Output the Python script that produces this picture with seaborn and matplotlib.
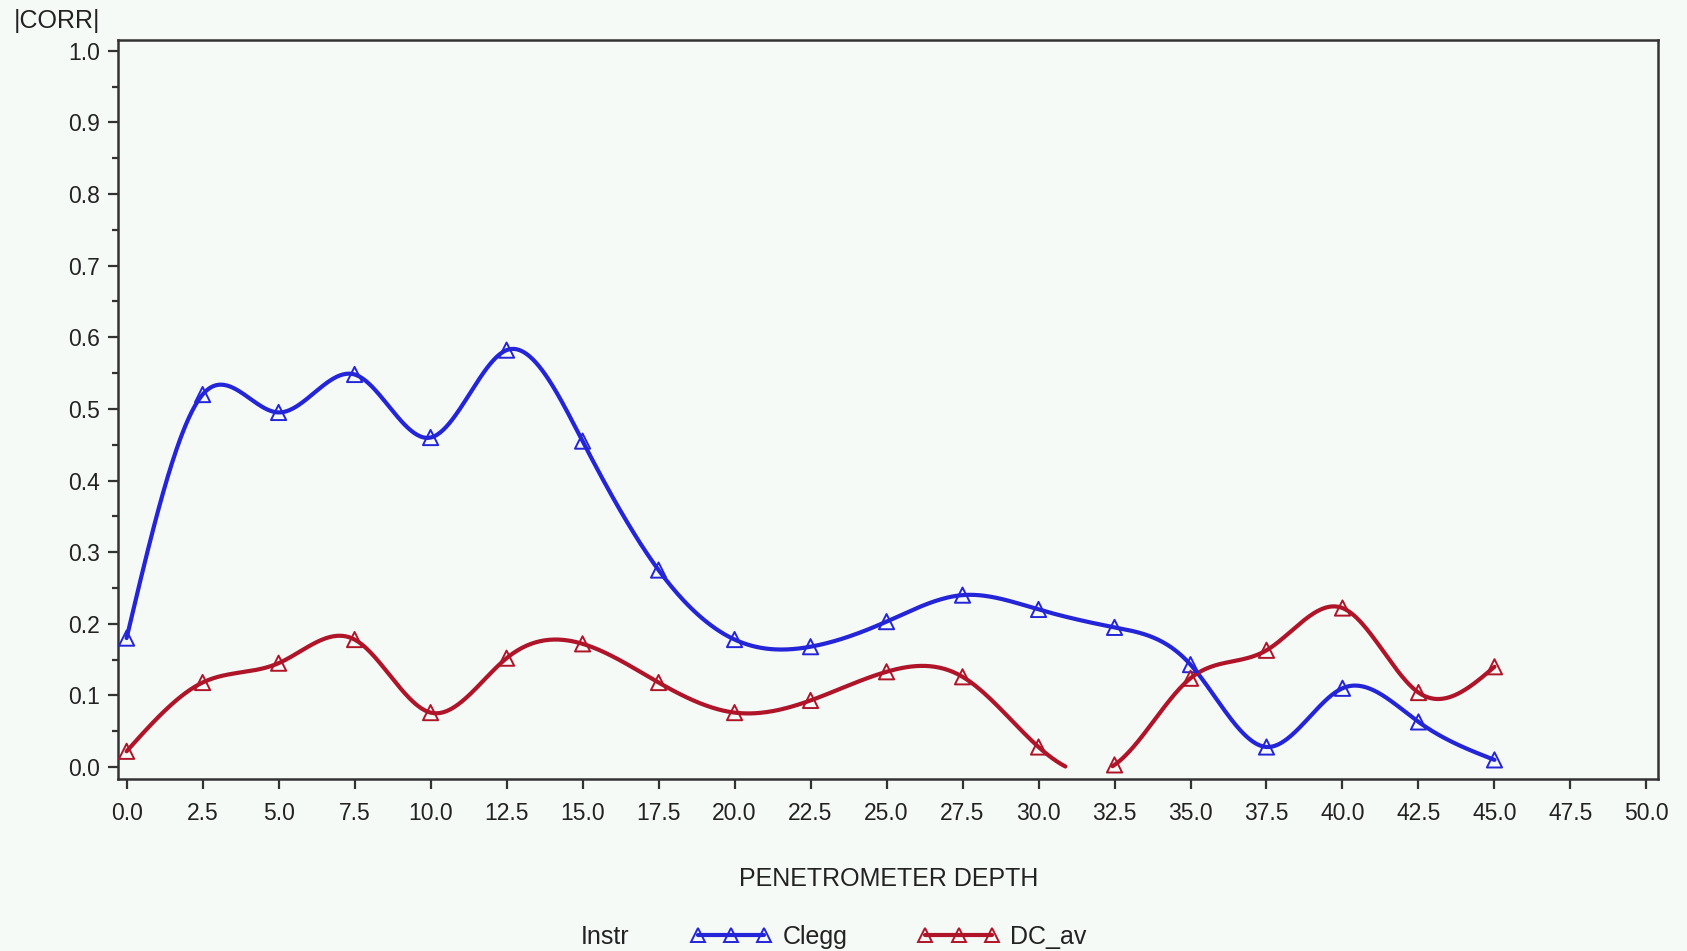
import numpy as np
import pandas as pd
import seaborn as sns
import matplotlib.pyplot as plt
from matplotlib.lines import Line2D

# datos
depth = [0.0, 2.5, 5.0, 7.5, 10.0, 12.5, 15.0, 17.5, 20.0, 22.5,
         25.0, 27.5, 30.0, 32.5, 35.0, 37.5, 40.0, 42.5, 45.0]
clegg = [0.180, 0.520, 0.495, 0.548, 0.460, 0.582, 0.455, 0.275, 0.178, 0.168,
         0.203, 0.240, 0.220, 0.195, 0.143, 0.028, 0.110, 0.063, 0.010]
dc_av = [0.022, 0.118, 0.145, 0.178, 0.076, 0.152, 0.172, 0.118, 0.076, 0.093,
         0.133, 0.126, 0.028, 0.003, 0.124, 0.163, 0.222, 0.104, 0.140]
xticks = np.arange(0, 50.1, 2.5)
yticks = np.arange(0, 1.01, 0.1)

colors = {'Clegg': '#2424D8', 'DC_av': '#B01428'}
bg = '#F5FAF7'


def natural_spline(x, y, n=900):
    # spline cubico natural (como interpol=spline de SAS)
    x = np.asarray(x, float)
    y = np.asarray(y, float)
    k = len(x)
    h = np.diff(x)
    A = np.zeros((k, k))
    r = np.zeros(k)
    A[0, 0] = A[-1, -1] = 1
    for i in range(1, k - 1):
        A[i, i - 1] = h[i - 1]
        A[i, i] = 2 * (h[i - 1] + h[i])
        A[i, i + 1] = h[i]
        r[i] = 6 * ((y[i + 1] - y[i]) / h[i] - (y[i] - y[i - 1]) / h[i - 1])
    M = np.linalg.solve(A, r)
    xs = np.linspace(x[0], x[-1], n)
    idx = np.clip(np.searchsorted(x, xs) - 1, 0, k - 2)
    x0, x1 = x[idx], x[idx + 1]
    hh = x1 - x0
    ys = (M[idx] * (x1 - xs) ** 3 / (6 * hh) + M[idx + 1] * (xs - x0) ** 3 / (6 * hh)
          + (y[idx] / hh - M[idx] * hh / 6) * (x1 - xs)
          + (y[idx + 1] / hh - M[idx + 1] * hh / 6) * (xs - x0))
    # recortado en el eje: lo que cae bajo 0 no se dibuja
    keep = ys >= 0
    seg = np.cumsum(~keep)
    return pd.DataFrame({'x': xs[keep], 'y': ys[keep], 'seg': seg[keep]})


sns.set_style('white')
plt.rcParams['font.family'] = ['Liberation Sans', 'DejaVu Sans']
plt.rcParams['font.size'] = 16

fig = plt.figure(figsize=(16.87, 9.51), dpi=100, facecolor=bg)
ax = fig.add_axes([0.070, 0.181, 0.913, 0.777])
ax.set_facecolor(bg)

pts = pd.DataFrame({'depth': depth * 2, 'corr': clegg + dc_av,
                    'Instr': ['Clegg'] * len(depth) + ['DC_av'] * len(depth)})

for name, vals in [('Clegg', clegg), ('DC_av', dc_av)]:
    curve = natural_spline(depth, vals)
    sns.lineplot(data=curve, x='x', y='y', units='seg', estimator=None,
                 color=colors[name], linewidth=3.0, ax=ax, legend=False, sort=False)

for name in ['Clegg', 'DC_av']:
    sub = pts[pts['Instr'] == name]
    sns.scatterplot(data=sub, x='depth', y='corr', marker='^', s=120,
                    facecolor='none', edgecolor=colors[name], linewidth=1.4,
                    ax=ax, legend=False, zorder=3)

ax.set_xlim(-0.28, 50.39)
ax.set_ylim(-0.0165, 1.015)
ax.set_xticks(xticks)
ax.set_xticklabels([f'{v:.1f}' for v in xticks])
ax.set_yticks(yticks)
ax.set_yticklabels([f'{v:.1f}' for v in yticks])
ax.set_yticks(np.arange(0.05, 1.0, 0.1), minor=True)
ax.tick_params(axis='both', which='major', direction='out', length=7, width=1.6,
               color='#333333', labelsize=16.5, labelcolor='#222222', pad=6)
ax.tick_params(axis='y', which='minor', direction='out', length=4, width=1.6,
               color='#333333', left=True)
ax.tick_params(axis='x', bottom=True, pad=10)
ax.tick_params(axis='y', left=True)
for sp in ax.spines.values():
    sp.set_color('#333333')
    sp.set_linewidth(1.8)

ax.set_xlabel('PENETROMETER DEPTH', fontsize=18, color='#222222', labelpad=30)
ax.set_ylabel('')
fig.text(0.008, 0.978, '|CORR|', fontsize=18, color='#222222', va='center', ha='left')

# leyenda
fig.text(0.344, 0.015, 'Instr', fontsize=18, color='#222222', va='center', ha='left')
handles = [Line2D([0], [0], color=colors[n], linewidth=3.0, marker='^',
                  markersize=10, markerfacecolor='none', markeredgewidth=1.4)
           for n in ['Clegg', 'DC_av']]
fig.legend(handles, ['Clegg', 'DC_av'], loc='center left', bbox_to_anchor=(0.396, 0.015),
           ncol=2, frameon=False, numpoints=3, handlelength=3.25, columnspacing=2.8,
           handletextpad=0.45, fontsize=18, labelcolor='#222222')

plt.savefig('out.png', dpi=100, facecolor=bg)
